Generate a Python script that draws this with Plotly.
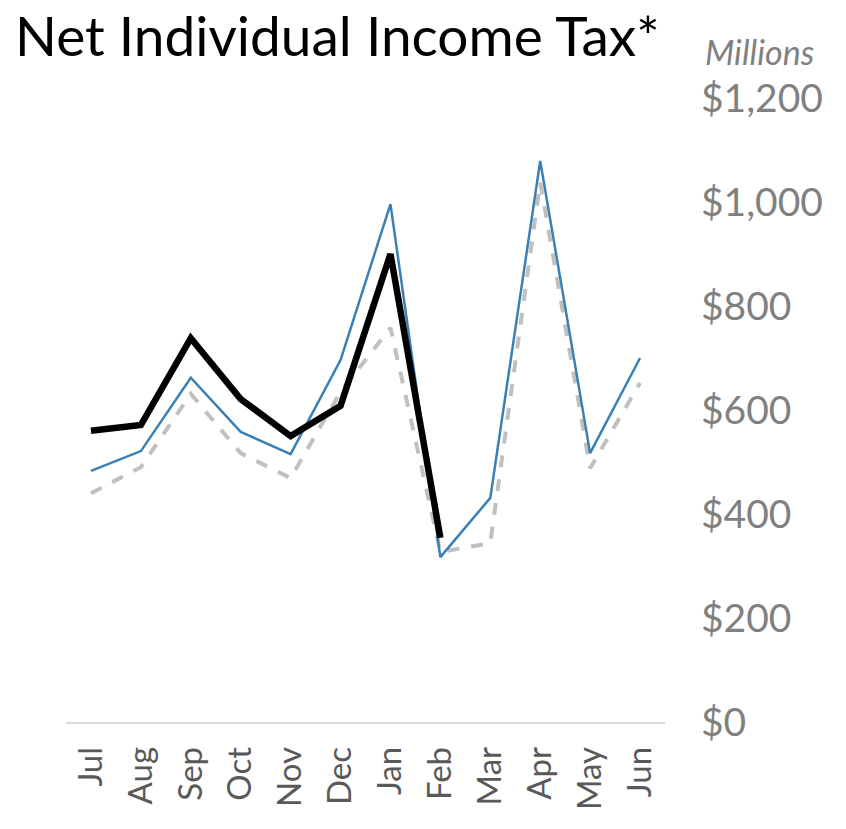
import plotly.graph_objects as go

months = ["Jul", "Aug", "Sep", "Oct", "Nov", "Dec", "Jan", "Feb", "Mar", "Apr", "May", "Jun"]
current_year = [560, 571, 738, 621, 550, 608, 900, 354]
prior_year = [483, 521, 662, 558, 515, 696, 996, 317, 431, 1079, 517, 700]
forecast = [440, 490, 631, 517, 469, 635, 758, 327, 344, 1038, 488, 652]
y_ticks = [0, 200, 400, 600, 800, 1000, 1200]
y_tick_labels = ["$0", "$200", "$400", "$600", "$800", "$1,000", "$1,200"]

FONT = "Lato"

fig = go.Figure()
fig.add_trace(go.Scatter(x=months, y=forecast, mode="lines",
                         line=dict(color="#c0c0c0", width=4, dash="dash"),
                         showlegend=False, hoverinfo="skip"))
fig.add_trace(go.Scatter(x=months, y=prior_year, mode="lines",
                         line=dict(color="#3a80b5", width=2.5),
                         showlegend=False))
fig.add_trace(go.Scatter(x=months[:len(current_year)], y=current_year, mode="lines",
                         line=dict(color="#000000", width=6.5),
                         showlegend=False))

fig.update_layout(
    width=846, height=829,
    margin=dict(l=66, r=181, t=98, b=107),
    paper_bgcolor="white", plot_bgcolor="white",
    font=dict(family=FONT),
    title=dict(text="Net Individual Income Tax*", x=15/846, xanchor="left",
               y=1 - 37/829, yanchor="middle", xref="container", yref="container",
               font=dict(family=FONT, size=55, color="#000000")),
    xaxis=dict(type="category", range=[-0.5, 11.5], tickangle=-90,
               tickfont=dict(family=FONT, size=33, color="#595959"),
               showgrid=False, showline=True, linecolor="#d9d9d9", linewidth=1.5,
               ticks="", zeroline=False, fixedrange=True, ticklabelstandoff=10),
    yaxis=dict(side="right", range=[0, 1200], tickvals=y_ticks, ticktext=y_tick_labels,
               tickfont=dict(family=FONT, size=39, color="#808080"),
               showgrid=False, showline=False, zeroline=False, ticks="",
               ticklabelstandoff=35, fixedrange=True),
    annotations=[dict(text="<i>Millions</i>", x=703, y=50, xref="paper", yref="paper",
                      showarrow=False)],
)
fig.layout.annotations[0].update(
    x=(703 - 66) / (846 - 66 - 181), xanchor="left",
    y=1 + (98 - 51) / (829 - 98 - 107), yanchor="middle",
    font=dict(family=FONT, size=34, color="#808080"))

fig.write_html("out.html")
